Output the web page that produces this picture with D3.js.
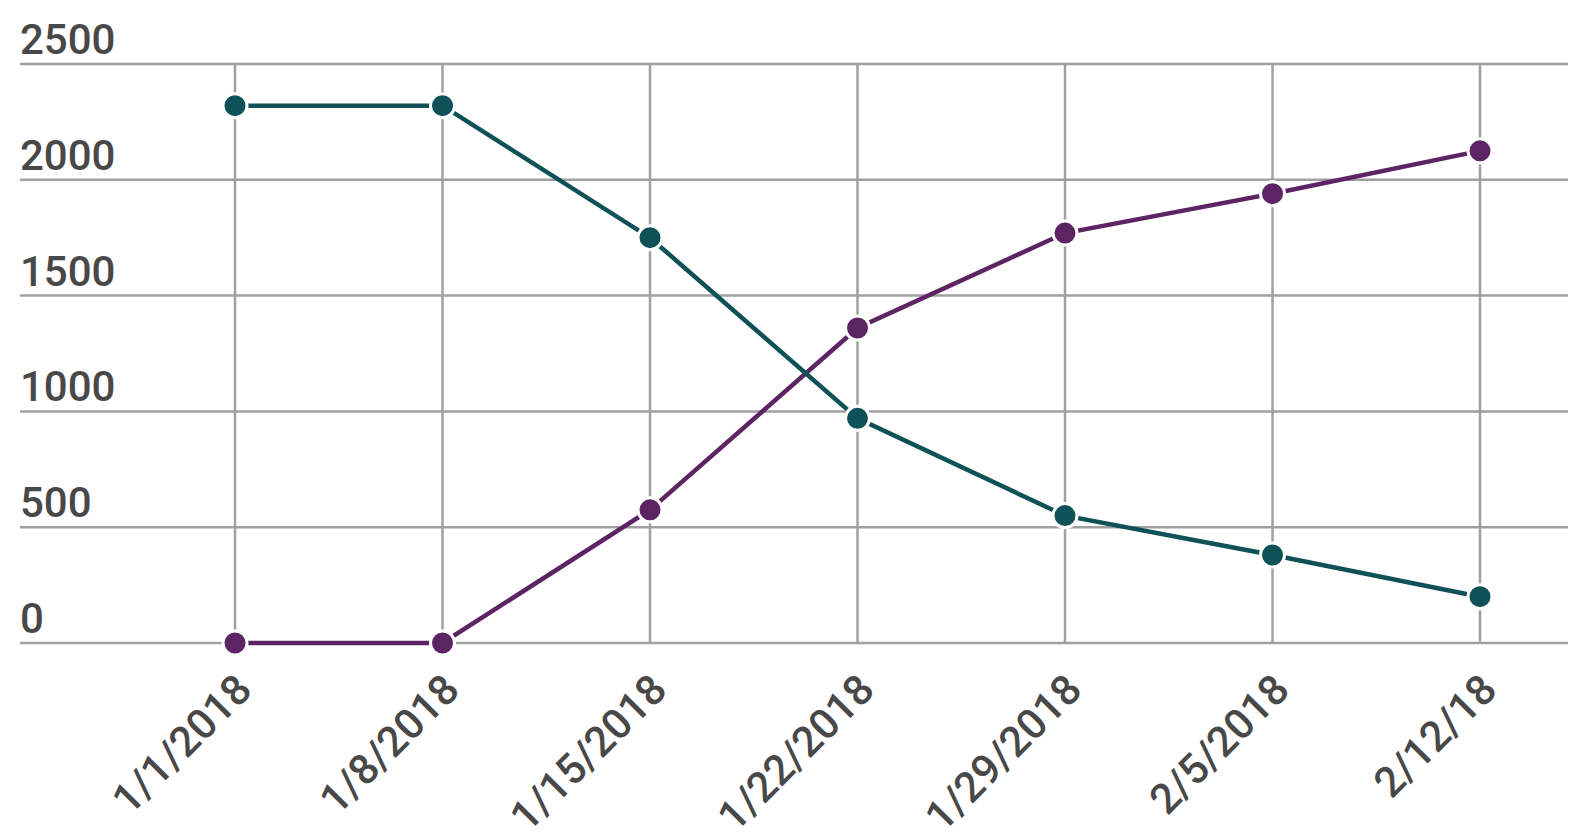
<!DOCTYPE html>
<html><head><meta charset="utf-8">
<script src="https://cdn.jsdelivr.net/npm/d3@7"></script>
<style>body{margin:0;background:#fff;}text{font-family:Roboto,sans-serif;font-weight:500;}</style>
</head><body>
<svg id="c" width="1572" height="832"></svg>
<script>
const categories = ["1/1/2018","1/8/2018","1/15/2018","1/22/2018","1/29/2018","2/5/2018","2/12/18"];
const tealValues = [2320, 2320, 1750, 970, 550, 380, 200];
const purpleValues = [0, 0, 575, 1360, 1770, 1940, 2125];
const yTicks = [0, 500, 1000, 1500, 2000, 2500];

(function () {
const svg = d3.select("#c");
const mLeft = 20, mRight = 1568, mTop = 64, mBottom = 643;
const x = d3.scalePoint().domain(categories).range([235, 1480]);
const y = d3.scaleLinear().domain([0, 2500]).range([mBottom, mTop]);

svg.append("g").selectAll("line").data(yTicks).join("line")
  .attr("x1", mLeft).attr("x2", mRight)
  .attr("y1", d => y(d)).attr("y2", d => y(d))
  .attr("stroke", "#a0a0a0").attr("stroke-width", 2.5);
svg.append("g").selectAll("line").data(categories).join("line")
  .attr("x1", d => x(d)).attr("x2", d => x(d))
  .attr("y1", mTop).attr("y2", mBottom)
  .attr("stroke", "#a0a0a0").attr("stroke-width", 2.5);

svg.append("g").selectAll("text").data(yTicks).join("text")
  .attr("x", mLeft).attr("y", d => y(d) - 10)
  .attr("font-size", 42).attr("fill", "#484848")
  .text(d => d);

svg.append("g").selectAll("text").data(categories).join("text")
  .attr("transform", d => `translate(${x(d) - 2},${mBottom + 28}) rotate(-45)`)
  .attr("text-anchor", "end").attr("dy", "0.71em")
  .attr("font-size", 42).attr("fill", "#484848")
  .text(d => d);

const series = [
  {values: purpleValues, color: "#5c2463"},
  {values: tealValues, color: "#0e5157"}
];
const line = d3.line().x((d, i) => x(categories[i])).y(d => y(d));
series.forEach(s => {
  svg.append("path").datum(s.values).attr("d", line)
    .attr("fill", "none").attr("stroke", s.color).attr("stroke-width", 4.5);
});
series.forEach(s => {
  svg.append("g").selectAll("circle").data(s.values).join("circle")
    .attr("cx", (d, i) => x(categories[i])).attr("cy", d => y(d))
    .attr("r", 12).attr("fill", s.color)
    .attr("stroke", "#fff").attr("stroke-width", 3);
});
})();
</script>
</body></html>
